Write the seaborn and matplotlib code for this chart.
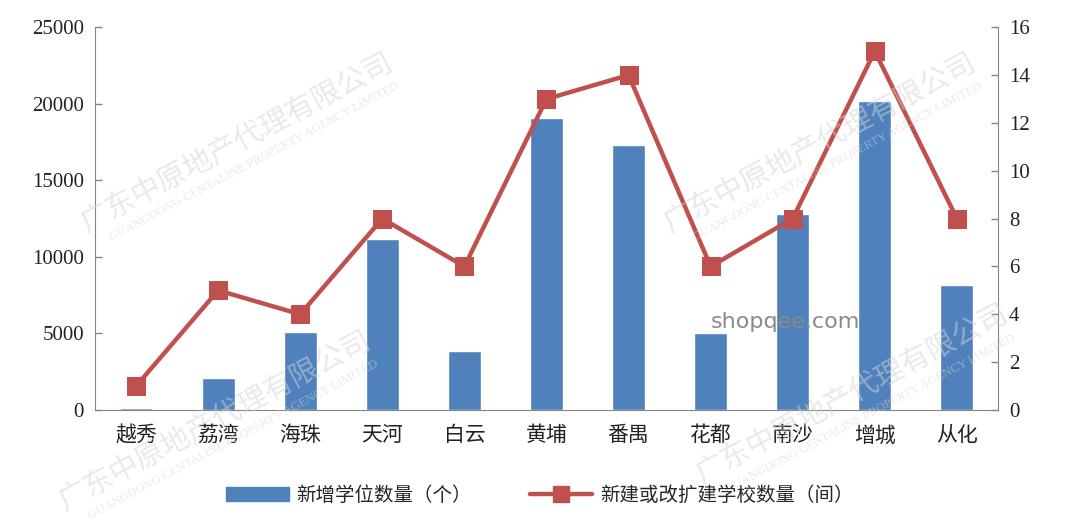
import numpy as np
import pandas as pd
import matplotlib
matplotlib.use('Agg')
import matplotlib.pyplot as plt
from matplotlib.lines import Line2D
from matplotlib.patches import Patch
import seaborn as sns

districts = ['越秀', '荔湾', '海珠', '天河', '白云', '黄埔', '番禺', '花都', '南沙', '增城', '从化']
new_places = [120, 2100, 5100, 11200, 3850, 19100, 17300, 5050, 12800, 20150, 8150]
new_schools = [1, 5, 4, 8, 6, 13, 14, 6, 8, 15, 8]

BAR_LABEL = '新增学位数量（个）'
LINE_LABEL = '新建或改扩建学校数量（间）'

BLUE = '#4F81BD'
RED = '#C0504D'
GREY = '#868686'

sns.set_style('white')
plt.rcParams['font.family'] = ['Liberation Serif', 'Noto Sans CJK SC', 'DejaVu Sans']

df = pd.DataFrame({'district': districts, 'places': new_places,
                   'schools': new_schools, 'pos': np.arange(len(districts))})

fig = plt.figure(figsize=(10.8, 5.24), dpi=100)
ax = fig.add_axes([0.088, 0.2176, 0.836, 0.7304])

sns.barplot(data=df, x='district', y='places', color=BLUE, saturation=1,
            width=0.4, ax=ax)
ax.set_xlim(-0.5, len(districts) - 0.5)
ax.set_ylim(0, 25000)
ax.set_yticks(np.arange(0, 25001, 5000))
ax.set_xlabel('')
ax.set_ylabel('')

ax2 = ax.twinx()
sns.lineplot(data=df, x='pos', y='schools', color=RED, lw=3.2, marker='s',
             markersize=12.5, markeredgecolor=RED, ax=ax2)
ax2.set_ylim(0, 16)
ax2.set_yticks(np.arange(0, 17, 2))
ax2.set_xlim(-0.5, len(districts) - 0.5)
ax2.set_ylabel('')

for a in (ax, ax2):
    for s in a.spines.values():
        s.set_visible(False)
    a.tick_params(labelsize=15, colors='#222222', length=5, color=GREY, width=1)
ax.spines['left'].set_visible(True)
ax.spines['left'].set_color(GREY)
ax.spines['bottom'].set_visible(True)
ax.spines['bottom'].set_color(GREY)
ax2.spines['right'].set_visible(True)
ax2.spines['right'].set_color(GREY)
ax.tick_params(axis='x', length=0, pad=12, labelsize=15)
ax.tick_params(axis='y', left=True, direction='in', pad=8)
ax2.tick_params(axis='y', right=True, direction='in', pad=8)

# faint watermarks
wm_cn = '广东中原地产代理有限公司'
wm_en = 'GUANGDONG CENTALINE PROPERTY AGENCY LIMITED'
for x, y in [(0.07, 0.56), (0.61, 0.56), (0.05, 0.03), (0.64, 0.08)]:
    fig.text(x, y, wm_cn, fontsize=21, color='#d4d4d4', alpha=0.5, rotation=28,
             family=['Noto Sans CJK SC'], zorder=0)
    fig.text(x + 0.03, y - 0.02, wm_en, fontsize=9, color='#d4d4d4', alpha=0.5,
             rotation=28, zorder=0)
fig.text(0.727, 0.385, 'shopqee.com', fontsize=16, color='#8a8a8a',
         family=['DejaVu Sans'], ha='center', va='center', zorder=5)

handles = [Patch(facecolor=BLUE, edgecolor=BLUE),
           Line2D([0], [0], color=RED, lw=3.2, marker='s', markersize=12)]
fig.legend(handles, [BAR_LABEL, LINE_LABEL], loc='center', bbox_to_anchor=(0.5, 0.055),
           ncol=2, frameon=False, fontsize=14, handlelength=3.2, columnspacing=3,
           handletextpad=0.4)

fig.savefig('out.png', dpi=100)
